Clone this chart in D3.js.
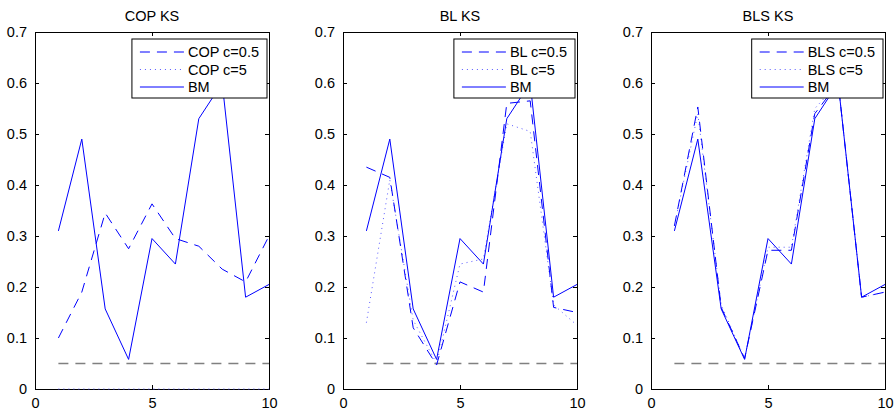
<!DOCTYPE html>
<html>
<head>
<meta charset="utf-8">
<script src="https://cdn.jsdelivr.net/npm/d3@7"></script>
<style>
  body { margin: 0; background: #fff; }
  svg { display: block; font-family: "Liberation Sans", Arial, sans-serif; }
</style>
</head>
<body>
<svg width="895" height="410"></svg>
<script>
const xValues = [1, 2, 3, 4, 5, 6, 7, 8, 9, 10];
const bmValues = [0.31, 0.49, 0.157, 0.058, 0.295, 0.245, 0.53, 0.6, 0.18, 0.205];
const copC05 = [0.1, 0.19, 0.345, 0.275, 0.363, 0.295, 0.28, 0.235, 0.21, 0.3];
const copC5 = [0, 0, 0, 0, 0, 0, 0, 0, 0, 0];
const blC05 = [0.435, 0.415, 0.12, 0.047, 0.21, 0.19, 0.56, 0.565, 0.16, 0.15];
const blC5 = [0.13, 0.41, 0.135, 0.05, 0.245, 0.255, 0.52, 0.505, 0.165, 0.125];
const blsC05 = [0.32, 0.553, 0.16, 0.06, 0.272, 0.272, 0.54, 0.6, 0.18, 0.19];
const blsC5 = [0.32, 0.54, 0.165, 0.06, 0.278, 0.278, 0.55, 0.6, 0.18, 0.19];
const threshold = 0.05;
const xTicks = [0, 5, 10];
const yTicks = [0, 0.1, 0.2, 0.3, 0.4, 0.5, 0.6, 0.7];

const panels = [
    {title: "COP KS", name: "COP", c05: copC05, c5: copC5},
    {title: "BL KS", name: "BL", c05: blC05, c5: blC5},
    {title: "BLS KS", name: "BLS", c05: blsC05, c5: blsC5}
];

const svg = d3.select("svg");
const attr_area = {top: 32, bottom: 389, width: 234, lefts: [35, 343, 651]};
const blue = "#0000ff";
const dotBlue = "#5a5aff";
const dashStyle = "10,7";
const dotStyle = "1,4";

const drawPanel = (p, i) => {
    const left = attr_area.lefts[i];
    const scX = d3.scaleLinear().domain([0, 10]).range([left, left + attr_area.width]);
    const scY = d3.scaleLinear().domain([0, 0.7]).range([attr_area.bottom, attr_area.top]);
    const g = svg.append("g");

    // axes box with inward ticks like matlab
    const axB = d3.axisBottom(scX).tickValues(xTicks).tickSize(-4).tickPadding(9).tickFormat(d3.format("d"));
    const axT = d3.axisTop(scX).tickValues(xTicks).tickSize(-4).tickFormat("");
    const axL = d3.axisLeft(scY).tickValues(yTicks).tickSize(-4).tickPadding(8).tickFormat(d => d === 0 ? "0" : d3.format(".1f")(d));
    const axR = d3.axisRight(scY).tickValues(yTicks).tickSize(-4).tickFormat("");

    g.append("g").attr("transform", `translate(0,${attr_area.bottom})`).call(axB);
    g.append("g").attr("transform", `translate(0,${attr_area.top})`).call(axT);
    g.append("g").attr("transform", `translate(${left},0)`).call(axL);
    g.append("g").attr("transform", `translate(${left + attr_area.width},0)`).call(axR);
    g.selectAll(".domain").attr("stroke", "#000").attr("stroke-width", 1);
    g.selectAll(".tick line").attr("stroke", "#000");
    g.selectAll(".tick text").attr("font-size", 14.5).attr("fill", "#000").attr("font-family", "Liberation Sans, Arial, sans-serif");

    const line = d3.line().x((d, k) => scX(xValues[k])).y(d => scY(d));

    g.append("path").datum(xValues.map(() => threshold)).attr("d", line)
     .attr("fill", "none").attr("stroke", "#808080").attr("stroke-width", 1.5)
     .attr("stroke-dasharray", dashStyle);

    g.append("path").datum(p.c5).attr("d", line)
     .attr("fill", "none").attr("stroke", dotBlue).attr("stroke-width", 1)
     .attr("stroke-dasharray", dotStyle);
    g.append("path").datum(p.c05).attr("d", line)
     .attr("fill", "none").attr("stroke", blue).attr("stroke-width", 1)
     .attr("stroke-dasharray", dashStyle);
    g.append("path").datum(bmValues).attr("d", line)
     .attr("fill", "none").attr("stroke", blue).attr("stroke-width", 1);

    // title
    g.append("text").attr("x", scX(5)).attr("y", 21).attr("text-anchor", "middle")
     .attr("font-size", 14.5).text(p.title);

    // legend
    const entries = [
        {label: p.name + " c=0.5", dash: dashStyle, color: blue},
        {label: p.name + " c=5", dash: dotStyle, color: dotBlue},
        {label: "BM", dash: null, color: blue}
    ];
    const leg = g.append("g");
    const box = leg.append("rect").attr("fill", "#fff").attr("stroke", "#000").attr("stroke-width", 1);
    let maxW = 0;
    entries.forEach((e, k) => {
        const cy = 52 + k * 17.5;
        leg.append("line").attr("x1", 8).attr("x2", 52).attr("y1", cy).attr("y2", cy)
           .attr("stroke", e.color).attr("stroke-width", 1)
           .attr("stroke-dasharray", e.dash);
        const t = leg.append("text").attr("x", 56).attr("y", cy).attr("dy", "0.36em")
           .attr("font-size", 14.5).text(e.label);
        maxW = Math.max(maxW, t.node().getComputedTextLength());
    });
    const boxW = 56 + maxW + 8;
    box.attr("x", 0).attr("y", 39).attr("width", boxW).attr("height", 59);
    leg.attr("transform", `translate(${left + attr_area.width - 2 - boxW},0)`);
}

panels.forEach((p, i) => drawPanel(p, i));
</script>
</body>
</html>
